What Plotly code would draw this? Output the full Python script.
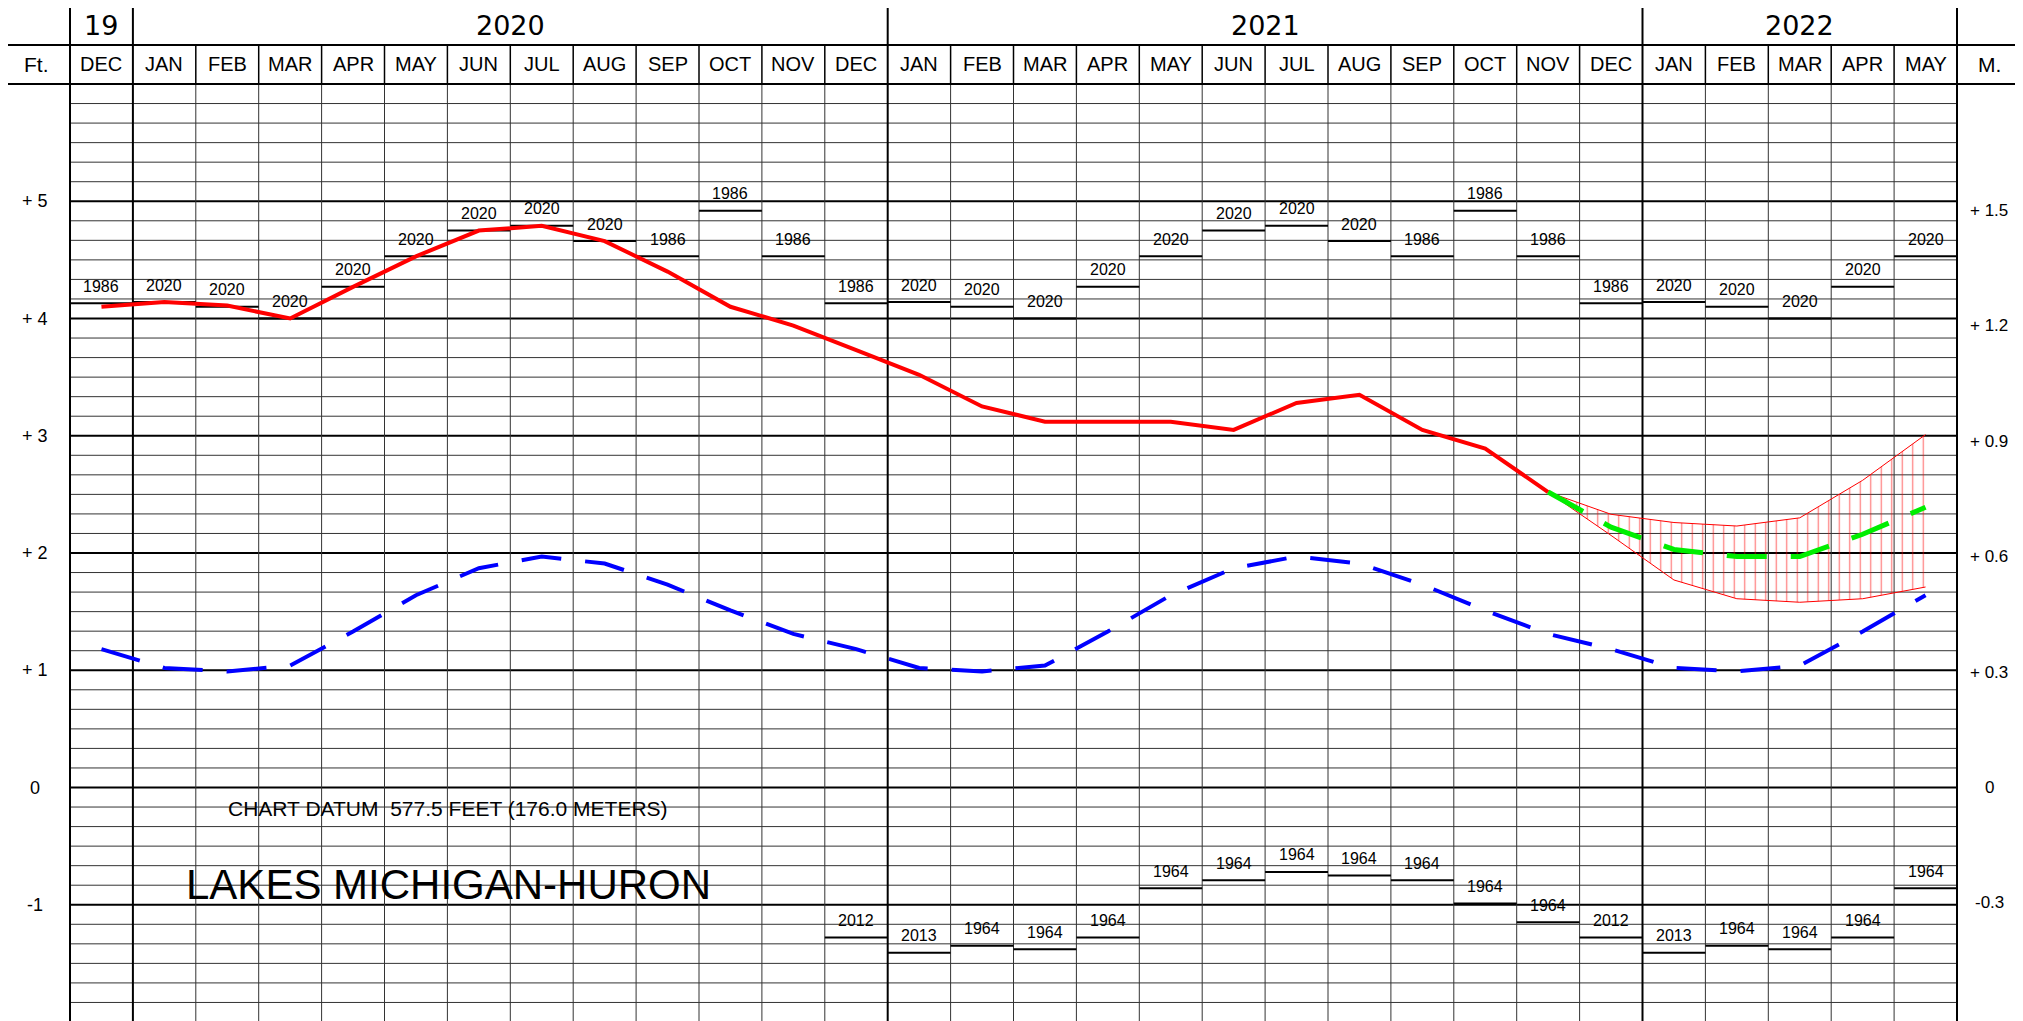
import plotly.graph_objects as go

# ---------------- data ----------------
month_names = ["JAN", "FEB", "MAR", "APR", "MAY", "JUN", "JUL", "AUG", "SEP", "OCT", "NOV", "DEC"]
col_months = ["DEC"] + month_names + month_names + ["JAN", "FEB", "MAR", "APR", "MAY"]
col_month_index = [11] + list(range(12)) + list(range(12)) + [0, 1, 2, 3, 4]

year_labels = ["19", "2020", "2021", "2022"]
year_first_col = [0, 1, 13, 25]
year_last_col = [0, 12, 24, 29]

# recorded monthly mean levels (ft above chart datum), Dec 2019 .. Nov 2021
recorded = [4.10, 4.14, 4.11, 4.00, 4.27, 4.53, 4.75, 4.79, 4.66, 4.40, 4.10, 3.94, 3.73,
            3.52, 3.25, 3.12, 3.12, 3.12, 3.05, 3.28, 3.35, 3.05, 2.89, 2.52]

# forecast (Nov 2021 .. May 2022)
forecast_start_col = 23
forecast_mid = [2.52, 2.22, 2.03, 1.97, 1.97, 2.16, 2.39]
forecast_high = [2.52, 2.33, 2.26, 2.23, 2.30, 2.62, 3.01]
forecast_low = [2.52, 2.15, 1.77, 1.61, 1.58, 1.61, 1.71]

# long-term monthly average, Jan..Dec
lta = [1.02, 0.99, 1.04, 1.33, 1.64, 1.87, 1.97, 1.91, 1.73, 1.51, 1.31, 1.18]

# record highs / lows per month, Jan..Dec
rec_high = [4.14, 4.10, 4.00, 4.27, 4.53, 4.75, 4.79, 4.66, 4.53, 4.92, 4.53, 4.13]
rec_high_year = ["2020", "2020", "2020", "2020", "2020", "2020", "2020", "2020",
                 "1986", "1986", "1986", "1986"]
rec_low = [-1.41, -1.35, -1.38, -1.28, -0.86, -0.79, -0.72, -0.75, -0.79, -0.99, -1.15, -1.28]
rec_low_year = ["2013", "1964", "1964", "1964", "1964", "1964", "1964", "1964",
                "1964", "1964", "1964", "2012"]
low_first_col = 12

ft_ticks = [5, 4, 3, 2, 1, 0, -1]
ft_ticktext = ["+ 5", "+ 4", "+ 3", "+ 2", "+ 1", "0", "-1"]
m_ticks = [1.5, 1.2, 0.9, 0.6, 0.3, 0.0, -0.3]
m_ticktext = ["+ 1.5", "+ 1.2", "+ 0.9", "+ 0.6", "+ 0.3", "0", "-0.3"]
FT_PER_M = 1 / 0.3048

# ---------------- layout constants (page pixels) ----------------
W, H = 2023, 1021
OFF = 8                      # default page body margin
P_LEFT, P_RIGHT, P_TOP, P_BOT = 70, 1957, 84, 1022
ML = P_LEFT - OFF
MT = P_TOP - OFF
PW = P_RIGHT - P_LEFT
PH = P_BOT - P_TOP
MR = W - ML - PW
MB = H - MT - PH
NCOL = len(col_months)
Y_MIN, Y_MAX = -2, 6

NARROW = "Liberation Sans Narrow, Arial Narrow, Liberation Sans, Arial, sans-serif"
WIDE = "DejaVu Sans, Verdana, sans-serif"


def px_x(X):  # page x -> paper
    return (X - P_LEFT) / PW


def px_y(Y):  # page y -> paper
    return (P_BOT - Y) / PH


def bx(b):  # column boundary (in column units) -> paper x
    return (b + 0.5) / NCOL


fig = go.Figure()
shapes = []
annotations = []


def label(x, y, text, size, family=NARROW, xref="paper", yref="paper", yshift=0):
    annotations.append(dict(xref=xref, yref=yref, x=x, y=y, text=text, showarrow=False,
                            xanchor="center", yanchor="middle", yshift=yshift,
                            font=dict(family=family, size=size, color="#000")))


# ---- grid in plot body ----
for k in range(Y_MIN * 6, Y_MAX * 6 + 1):
    v = k / 6
    major = (k % 6 == 0)
    shapes.append(dict(type="line", xref="paper", yref="y", x0=0, x1=1, y0=v, y1=v,
                       line=dict(color="#000" if major else "#333", width=2 if major else 1),
                       layer="below"))
year_bounds = [-0.5, 0.5, 12.5, 24.5, 29.5]
for i in range(NCOL + 1):
    b = i - 0.5
    thick = b in year_bounds
    shapes.append(dict(type="line", xref="paper", yref="paper", x0=bx(b), x1=bx(b), y0=0, y1=1,
                       line=dict(color="#000" if thick else "#333", width=2 if thick else 1),
                       layer="below"))

# ---- header ----
y_top, y_mid, y_bot = px_y(6), px_y(45), 1.0
xl, xr = px_x(7), px_x(2020)
hline = dict(color="#000", width=2)
shapes.append(dict(type="line", xref="paper", yref="paper", x0=0, x1=1, y0=y_top, y1=y_top, line=hline))
shapes.append(dict(type="line", xref="paper", yref="paper", x0=xl, x1=xr, y0=y_mid, y1=y_mid, line=hline))
shapes.append(dict(type="line", xref="paper", yref="paper", x0=xl, x1=xr, y0=y_bot, y1=y_bot, line=hline))
for b in year_bounds:
    shapes.append(dict(type="line", xref="paper", yref="paper", x0=bx(b), x1=bx(b), y0=y_mid, y1=y_top,
                       line=hline))
for i in range(NCOL + 1):
    b = i - 0.5
    shapes.append(dict(type="line", xref="paper", yref="paper", x0=bx(b), x1=bx(b), y0=y_bot, y1=y_mid,
                       line=dict(color="#000", width=2 if b in year_bounds else 1.5)))
for xx in (xl, xr):
    shapes.append(dict(type="line", xref="paper", yref="paper", x0=xx, x1=xx, y0=-0.01, y1=y_mid,
                       line=hline))

y_year_c = (y_top + y_mid) / 2
y_month_c = (y_mid + y_bot) / 2
for lab, c0, c1 in zip(year_labels, year_first_col, year_last_col):
    label(bx((c0 + c1) / 2), y_year_c, lab, 27, family=WIDE)
for i, m in enumerate(col_months):
    label(bx(i), y_month_c, m, 20)
label(px_x(36), y_month_c, "Ft.", 21)
label(px_x(1989), y_month_c, "M.", 21)

# ---- side scale labels ----
for v, t in zip(ft_ticks, ft_ticktext):
    label(px_x(35), v, t, 18, yref="y")
for v, t in zip(m_ticks, m_ticktext):
    label(px_x(1989), v * FT_PER_M, t, 17, yref="y")

# ---- record lines and labels ----
hx, hy, lx, ly = [], [], [], []
for i in range(NCOL):
    mi = col_month_index[i]
    hx += [i - 0.5, i + 0.5, None]
    hy += [rec_high[mi], rec_high[mi], None]
    label(i, rec_high[mi], rec_high_year[mi], 16, xref="x", yref="y", yshift=17)
    if i >= low_first_col:
        lx += [i - 0.5, i + 0.5, None]
        ly += [rec_low[mi], rec_low[mi], None]
        label(i, rec_low[mi], rec_low_year[mi], 16, xref="x", yref="y", yshift=17)

fig.add_trace(go.Scatter(x=hx, y=hy, mode="lines", line=dict(color="#000", width=2),
                         hoverinfo="skip", showlegend=False))
fig.add_trace(go.Scatter(x=lx, y=ly, mode="lines", line=dict(color="#000", width=2),
                         hoverinfo="skip", showlegend=False))

# ---- forecast envelope ----
fc_x = list(range(forecast_start_col, forecast_start_col + len(forecast_mid)))
fig.add_trace(go.Scatter(x=fc_x, y=forecast_high, mode="lines", line=dict(color="red", width=1),
                         showlegend=False))
fig.add_trace(go.Scatter(x=fc_x, y=forecast_low, mode="lines", line=dict(color="red", width=1),
                         fill="tonexty", fillcolor="rgba(0,0,0,0)",
                         fillpattern=dict(shape="|", size=10.5, solidity=0.12, fgcolor="red",
                                          bgcolor="rgba(0,0,0,0)", fillmode="overlay"),
                         showlegend=False))

# ---- long-term average ----
lta_y = [lta[col_month_index[i]] for i in range(NCOL)]
fig.add_trace(go.Scatter(x=list(range(NCOL)), y=lta_y, mode="lines",
                         line=dict(color="#0000ff", width=4, dash="40px,24px"), showlegend=False))

# ---- recorded ----
fig.add_trace(go.Scatter(x=list(range(len(recorded))), y=recorded, mode="lines",
                         line=dict(color="#ff0000", width=4), showlegend=False))

# ---- forecast mid ----
fig.add_trace(go.Scatter(x=fc_x, y=forecast_mid, mode="lines",
                         line=dict(color="#00ee00", width=5, dash="40px,24px"), showlegend=False))

# ---- titles ----
label(px_x(448), -0.175, "CHART DATUM  577.5 FEET (176.0 METERS)", 21, yref="y")
label(px_x(448), -0.83, "LAKES MICHIGAN-HURON", 42, yref="y")

fig.update_layout(
    width=W, height=H,
    margin=dict(l=ML, r=MR, t=MT, b=MB, pad=0),
    paper_bgcolor="white", plot_bgcolor="white",
    xaxis=dict(range=[-0.5, NCOL - 0.5], showgrid=False, zeroline=False, showticklabels=False,
               ticks="", showline=False, fixedrange=True),
    yaxis=dict(range=[Y_MIN, Y_MAX], showgrid=False, zeroline=False, showticklabels=False,
               ticks="", showline=False, fixedrange=True),
    shapes=shapes,
    annotations=annotations,
    showlegend=False,
)

fig.write_html("out.html")
